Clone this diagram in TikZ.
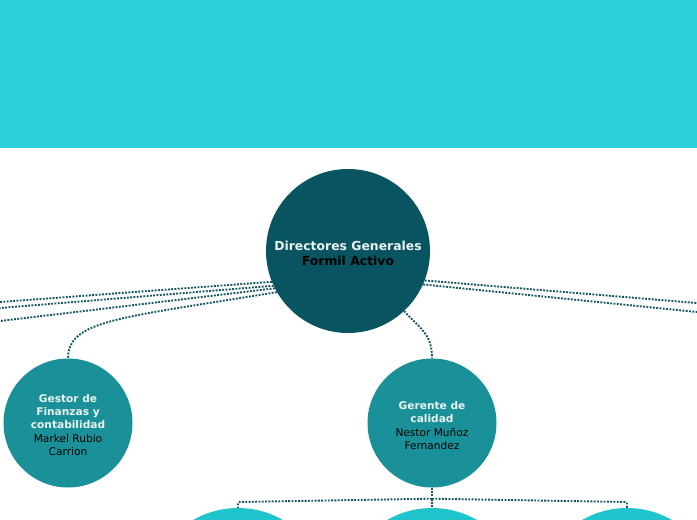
\documentclass[tikz,border=0pt]{standalone}
\usepackage{fontspec}
\setmainfont{DejaVu Sans}
\definecolor{banner}{RGB}{43,208,216}
\definecolor{darkteal}{RGB}{8,84,96}
\definecolor{midteal}{RGB}{26,145,152}
\definecolor{lightteal}{RGB}{32,196,204}
\definecolor{linkteal}{RGB}{22,86,98}
\definecolor{paletext}{RGB}{235,242,242}
\newcommand{\head}[1]{\textcolor{paletext}{\bfseries #1}}
\tikzstyle{bubble}=[circle, inner sep=0pt, align=center]
\tikzstyle{link}=[linkteal, line width=1.9pt, dash pattern=on 1.9pt off 1.4pt]

\begin{document}
\begin{tikzpicture}[x=1pt, y=-1pt]
% Page
    \useasboundingbox (0,0) rectangle (697,520);
    \clip (0,0) rectangle (697,520);
    \fill[banner] (0,0) rectangle (697,148);
% Bubbles
    \node[bubble, fill=darkteal, minimum size=164pt, font=\fontsize{12.4}{15}\selectfont\bfseries] (dir) at (348,251)
        {\rule{0pt}{13.5pt}\textcolor{paletext}{Directores Generales}\\Formil Activo};
    \node[bubble, fill=midteal, minimum size=129pt, font=\fontsize{10.6}{13}\selectfont] (fin) at (68,423)
        {\rule{0pt}{12pt}\head{Gestor de}\\\head{Finanzas y}\\\head{contabilidad}\\[1.5pt]Markel Rubio\\Carrion};
    \node[bubble, fill=midteal, minimum size=129pt, font=\fontsize{10.6}{13}\selectfont] (qual) at (432,423)
        {\rule{0pt}{14pt}\head{Gerente de}\\\head{calidad}\\[1pt]Nestor Muñoz\\Fernandez};
    \node[bubble, fill=lightteal, minimum size=180pt] (subA) at (238,598) {};
    \node[bubble, fill=lightteal, minimum size=180pt] (subB) at (432,598) {};
    \node[bubble, fill=lightteal, minimum size=180pt] (subC) at (627,598) {};
% Loose ends off the page
    \coordinate (offA) at (0,302);
    \coordinate (offB) at (0,308);
    \coordinate (offC) at (0,321);
    \coordinate (offD) at (697,303);
    \coordinate (offE) at (697,312);
% Links from the top
    \draw[link] (dir.202) -- (offA);
    \draw[link] (dir.205) -- (offB);
    \draw[link] (dir.207) -- (offC);
    \draw[link] (dir.210) .. controls (120,318) and (68,320) .. (fin.north);
    \draw[link] (dir.339) -- (offD);
    \draw[link] (dir.336) -- (offE);
    \draw[link] (dir.313) .. controls (422,330) and (432,335) .. (qual.north);
% Links below quality
    \draw[link] (qual.south) -- ++(0,11) coordinate (hub);
    \draw[link] (hub) -- (subB.north);
    \draw[link, rounded corners=2pt] (hub) -- (subA.north |- 0,502) -- (subA.north);
    \draw[link, rounded corners=2pt] (hub) -- (subC.north |- 0,502) -- (subC.north);
\end{tikzpicture}
\end{document}
